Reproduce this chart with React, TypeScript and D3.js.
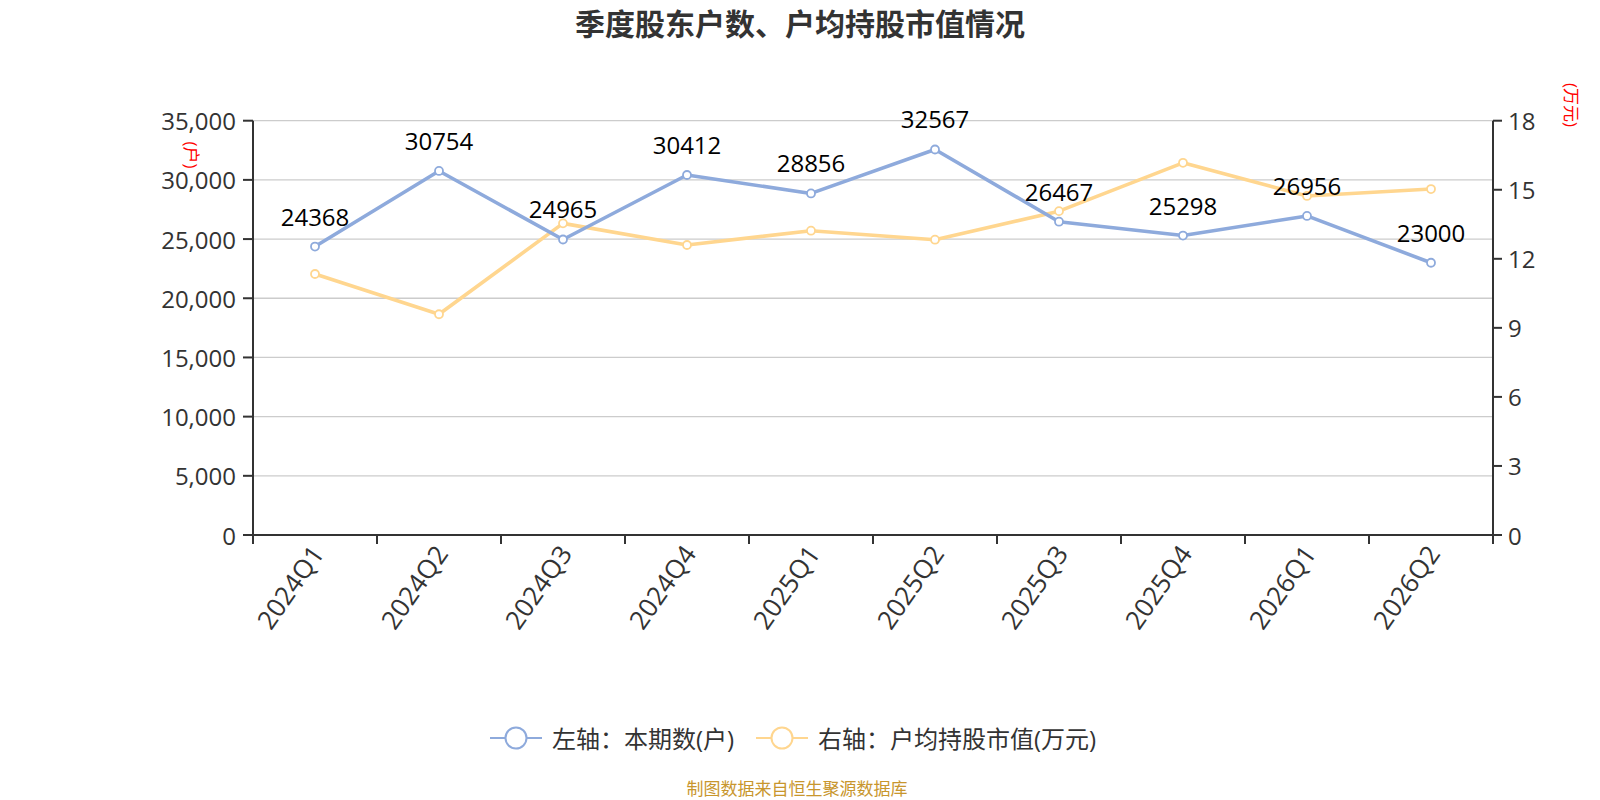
import React from "react";
import * as d3 from "d3";

const categories = ["2024Q1", "2024Q2", "2024Q3", "2024Q4", "2025Q1", "2025Q2", "2025Q3", "2025Q4", "2026Q1", "2026Q2"];
const holders = [24368, 30754, 24965, 30412, 28856, 32567, 26467, 25298, 26956, 23000];
const avgValue = [11.34, 9.59, 13.54, 12.6, 13.22, 12.83, 14.07, 16.17, 14.73, 15.03];
const leftTicks = [0, 5000, 10000, 15000, 20000, 25000, 30000, 35000];
const rightTicks = [0, 3, 6, 9, 12, 15, 18];
const title = "季度股东户数、户均持股市值情况";
const legendLabels = ["左轴：本期数(户)", "右轴：户均持股市值(万元)"];
const leftName = "(户)";
const rightName = "(万元)";
const source = "制图数据来自恒生聚源数据库";

const W = 1600;
const H = 800;
const left = 253;
const right = 1493;
const top = 120.7;
const bottom = 535;
const BLUE = "#8eaadc";
const YELLOW = "#ffd68f";
const AXIS = "#333";
const FONT = "'Open Sans', 'Noto Sans CJK SC', sans-serif";

export default function App() {
  const x = d3.scaleBand<string>().domain(categories).range([left, right]);
  const yL = d3.scaleLinear().domain([0, 35000]).range([bottom, top]);
  const yR = d3.scaleLinear().domain([0, 18]).range([bottom, top]);
  const cx = (c: string) => (x(c) as number) + x.bandwidth() / 2;
  const lineL = d3.line<number>().x((_, i) => cx(categories[i])).y((d) => yL(d));
  const lineR = d3.line<number>().x((_, i) => cx(categories[i])).y((d) => yR(d));
  const fmt = d3.format(",");
  const bounds = categories.map((c) => x(c) as number).concat([right]);

  return (
    <div style={{ position: "absolute", left: 0, top: 0, width: W, height: H, background: "#fff" }}>
      <svg width={W} height={H} style={{ display: "block", fontFamily: FONT }}>
        <text x={800} y={23} textAnchor="middle" dominantBaseline="central" fontSize={30} fontWeight="bold" fill="#333">
          {title}
        </text>

        {leftTicks.map((t) => (
          <line key={"g" + t} x1={left} x2={right} y1={yL(t)} y2={yL(t)} stroke="#ccc" strokeWidth={1.3} />
        ))}

        {/* left axis */}
        <line x1={left} x2={left} y1={top} y2={bottom} stroke={AXIS} strokeWidth={2} />
        {leftTicks.map((t) => (
          <g key={"l" + t}>
            <line x1={left - 10} x2={left} y1={yL(t)} y2={yL(t)} stroke={AXIS} strokeWidth={2} />
            <text x={left - 17} y={yL(t)} textAnchor="end" dominantBaseline="central" fontSize={24} fill="#333">
              {fmt(t)}
            </text>
          </g>
        ))}

        {/* right axis */}
        <line x1={right} x2={right} y1={top} y2={bottom} stroke={AXIS} strokeWidth={2} />
        {rightTicks.map((t) => (
          <g key={"r" + t}>
            <line x1={right} x2={right + 9} y1={yR(t)} y2={yR(t)} stroke={AXIS} strokeWidth={2} />
            <text x={right + 15} y={yR(t)} textAnchor="start" dominantBaseline="central" fontSize={24} fill="#333">
              {t}
            </text>
          </g>
        ))}

        {/* x axis */}
        <line x1={left - 10} x2={right + 9} y1={bottom} y2={bottom} stroke={AXIS} strokeWidth={2} />
        {bounds.map((b, i) => (
          <line key={"xt" + i} x1={b} x2={b} y1={bottom} y2={bottom + 9} stroke={AXIS} strokeWidth={2} />
        ))}
        {categories.map((c) => (
          <text
            key={"xl" + c}
            transform={`translate(${cx(c) + 2},${bottom + 13}) rotate(-55)`}
            textAnchor="end"
            dominantBaseline="central"
            fontSize={26}
            fill="#333"
          >
            {c}
          </text>
        ))}

        {/* axis names */}
        <text transform={`translate(191,155) rotate(90)`} textAnchor="middle" dominantBaseline="central" fontSize={17} fill="red">
          {leftName}
        </text>
        <text transform={`translate(1571,105) rotate(90)`} textAnchor="middle" dominantBaseline="central" fontSize={17} fill="red">
          {rightName}
        </text>

        {/* lines */}
        <path d={lineR(avgValue) || ""} fill="none" stroke={YELLOW} strokeWidth={3.6} strokeLinejoin="round" />
        {avgValue.map((v, i) => (
          <circle key={"ry" + i} cx={cx(categories[i])} cy={yR(v)} r={4} fill="#fff" stroke={YELLOW} strokeWidth={1.8} />
        ))}
        <path d={lineL(holders) || ""} fill="none" stroke={BLUE} strokeWidth={3.6} strokeLinejoin="round" />
        {holders.map((v, i) => (
          <circle key={"lb" + i} cx={cx(categories[i])} cy={yL(v)} r={4} fill="#fff" stroke={BLUE} strokeWidth={1.8} />
        ))}
        {holders.map((v, i) => (
          <text key={"lab" + i} x={cx(categories[i])} y={yL(v) - 21} textAnchor="middle" fontSize={24} fill="#000">
            {v}
          </text>
        ))}

        {/* legend */}
        <g>
          <line x1={490} x2={542} y1={738} y2={738} stroke={BLUE} strokeWidth={2} />
          <circle cx={516} cy={738} r={10.5} fill="#fff" stroke={BLUE} strokeWidth={2} />
          <text x={552} y={738} dominantBaseline="central" fontSize={24} fill="#333">
            {legendLabels[0]}
          </text>
          <line x1={756} x2={808} y1={738} y2={738} stroke={YELLOW} strokeWidth={2} />
          <circle cx={782} cy={738} r={10.5} fill="#fff" stroke={YELLOW} strokeWidth={2} />
          <text x={818} y={738} dominantBaseline="central" fontSize={24} fill="#333">
            {legendLabels[1]}
          </text>
        </g>

        <text x={797} y={788} textAnchor="middle" dominantBaseline="central" fontSize={17} fill="#c8962d">
          {source}
        </text>
      </svg>
    </div>
  );
}
